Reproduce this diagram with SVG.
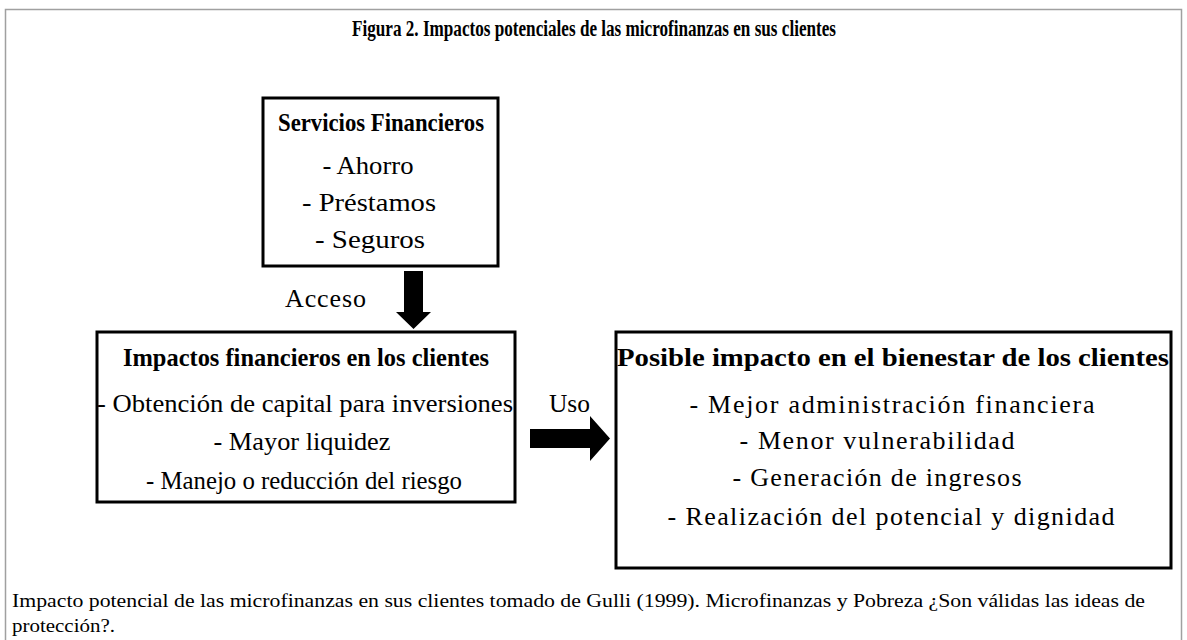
<svg xmlns="http://www.w3.org/2000/svg" width="1187" height="640" viewBox="0 0 1187 640">
<style>
  .frame{fill:none;stroke:#a0a0a0;stroke-width:1.5}
  .box{fill:#fff;stroke:#000;stroke-width:3}
  .t{font-family:"Liberation Serif","Times New Roman",serif;fill:#000}
  .title{font-size:24px;font-weight:bold;text-anchor:middle}
  .head{font-size:25px;font-weight:bold;text-anchor:middle}
  .item{font-size:26px;text-anchor:middle}
  .lbl{font-size:26px}
  .cap{font-size:18px}
  .arrow{fill:#000}
</style>
<rect width="1187" height="640" fill="#fff"/>
<rect class="frame" x="5.5" y="9.5" width="1176" height="660"/>
<text class="t title" x="594" y="36" textLength="484" lengthAdjust="spacingAndGlyphs">Figura 2. Impactos potenciales de las microfinanzas en sus clientes</text>

<g id="node-servicios">
  <rect class="box" x="263" y="98" width="235" height="168"/>
  <text class="t head" x="381" y="131" textLength="206" lengthAdjust="spacingAndGlyphs">Servicios Financieros</text>
  <text class="t item" x="368" y="174" textLength="91" lengthAdjust="spacingAndGlyphs">- Ahorro</text>
  <text class="t item" x="369" y="211" textLength="134" lengthAdjust="spacingAndGlyphs">- Préstamos</text>
  <text class="t item" x="370" y="248" textLength="110" lengthAdjust="spacingAndGlyphs">- Seguros</text>
</g>

<g id="node-impactos">
  <rect class="box" x="97" y="332" width="418" height="170"/>
  <text class="t head" x="306" y="366" textLength="366" lengthAdjust="spacingAndGlyphs">Impactos financieros en los clientes</text>
  <text class="t item" x="305" y="412" textLength="416" lengthAdjust="spacingAndGlyphs">- Obtención de capital para inversiones</text>
  <text class="t item" x="302" y="450" textLength="177" lengthAdjust="spacingAndGlyphs">- Mayor liquidez</text>
  <text class="t item" x="304" y="489" textLength="316" lengthAdjust="spacingAndGlyphs">- Manejo o reducción del riesgo</text>
</g>

<g id="node-bienestar">
  <rect class="box" x="616" y="332" width="555" height="236"/>
  <text class="t head" x="893" y="366" textLength="552" lengthAdjust="spacingAndGlyphs">Posible impacto en el bienestar de los clientes</text>
  <text class="t item" x="892" y="413" textLength="405" lengthAdjust="spacing">- Mejor administración financiera</text>
  <text class="t item" x="877" y="449" textLength="275" lengthAdjust="spacing">- Menor vulnerabilidad</text>
  <text class="t item" x="877" y="486" textLength="289" lengthAdjust="spacing">- Generación de ingresos</text>
  <text class="t item" x="891" y="525" textLength="447" lengthAdjust="spacing">- Realización del potencial y dignidad</text>
</g>

<g id="connectors">
  <polygon class="arrow" points="404,271 423,271 423,312 431,312 413.5,329 396,312 404,312"/>
  <text class="t lbl" x="285" y="307" textLength="81" lengthAdjust="spacing">Acceso</text>
  <polygon class="arrow" points="530,429 590,429 590,416 610,438.5 590,461 590,448 530,448"/>
  <text class="t lbl" x="549" y="412" textLength="41" lengthAdjust="spacingAndGlyphs">Uso</text>
</g>

<text class="t cap" x="12" y="607" textLength="1133" lengthAdjust="spacingAndGlyphs">Impacto potencial de las microfinanzas en sus clientes tomado de Gulli (1999).  Microfinanzas y Pobreza ¿Son válidas las ideas de</text>
<text class="t cap" x="12" y="632" textLength="103" lengthAdjust="spacingAndGlyphs">protección?.</text>
</svg>
